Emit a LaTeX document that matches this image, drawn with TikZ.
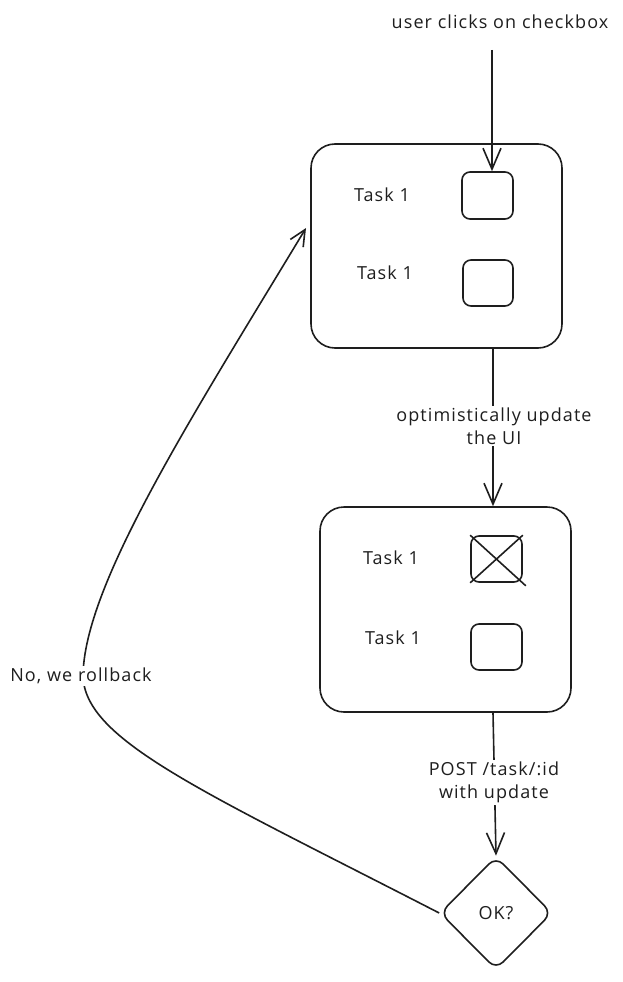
\documentclass[tikz,border=0pt]{standalone}
\usepackage{fontspec}
\setmainfont{Open Sans}[LetterSpace=6]
\usetikzlibrary{arrows.meta,shapes.geometric}
\definecolor{ink}{HTML}{1E1E1E}
\begin{document}
\begin{tikzpicture}[x=1pt,y=-1pt,
  ink line/.style={draw=ink, line width=1.6pt},
  bigbox/.style={ink line, rounded corners=24pt, minimum width=251pt, minimum height=204pt, inner sep=0pt},
  chk/.style={ink line, rounded corners=8pt, minimum width=51pt, minimum height=46pt, inner sep=0pt},
  lbl/.style={text=ink, font=\fontsize{18}{23}\selectfont, inner sep=2pt},
  edgelbl/.style={lbl, fill=white, align=center},
  arr/.style={ink line, -{Straight Barb[length=21pt,width=18pt,line width=1.6pt]}},
  carr/.style={ink line, -{Straight Barb[length=16pt,width=15pt,line width=1.6pt]}},
  decision/.style={ink line, diamond, minimum width=112pt, minimum height=113pt, inner sep=0pt, rounded corners=10pt}
]
\useasboundingbox (0,0) rectangle (623,982);

% boxes
\node[bigbox] (box1) at (436.5,246) {};
\node[bigbox, minimum height=205pt] (box2) at (445.5,609.5) {};

% checkboxes
\node[chk, minimum height=47pt] (cb1) at (487.5,195.5) {};
\node[chk, minimum width=50pt] (cb2) at (488,283) {};
\node[chk] (cb3) at (496.5,559) {};
\node[chk] (cb4) at (496.5,647) {};
\draw[ink line] (cb3.north west) -- ([xshift=3pt,yshift=-3pt]cb3.south east);
\draw[ink line] (cb3.north east) -- (cb3.south west);

% task labels
\node[lbl] (t1) at (382,195) {Task 1};
\node[lbl] (t2) at (385,273) {Task 1};
\node[lbl] (t3) at (391,558) {Task 1};
\node[lbl] (t4) at (393,638) {Task 1};

% decision
\node[decision] (ok) at (496,913) {};
\node[lbl] (oktext) at (ok) {OK?};

% top label + arrow
\node[lbl] (user) at (500,22) {user clicks on checkbox};
\coordinate (start) at (492,50);
\draw[arr] (start) -- (cb1.north -| start);

% box1 -> box2
\coordinate (ax) at (493,0);
\draw[arr] (box1.south -| ax) -- (box2.north -| ax);
\node[edgelbl] (l1) at (494,426) {optimistically update\\the UI};

% box2 -> decision
\draw[arr] (box2.south -| ax) -- (ok.north);
\node[edgelbl] (l2) at (494,782) {POST /task/:id\\with update};

% rollback curve
\coordinate (rb) at (83,676);
\coordinate (back) at (306,228);
\draw[carr] (ok.west) .. controls (200,790) and (85,740) .. (rb)
  .. controls (84,585) and (190,420) .. (back);
\node[edgelbl] (l3) at (81,676) {No, we rollback};
\end{tikzpicture}
\end{document}
